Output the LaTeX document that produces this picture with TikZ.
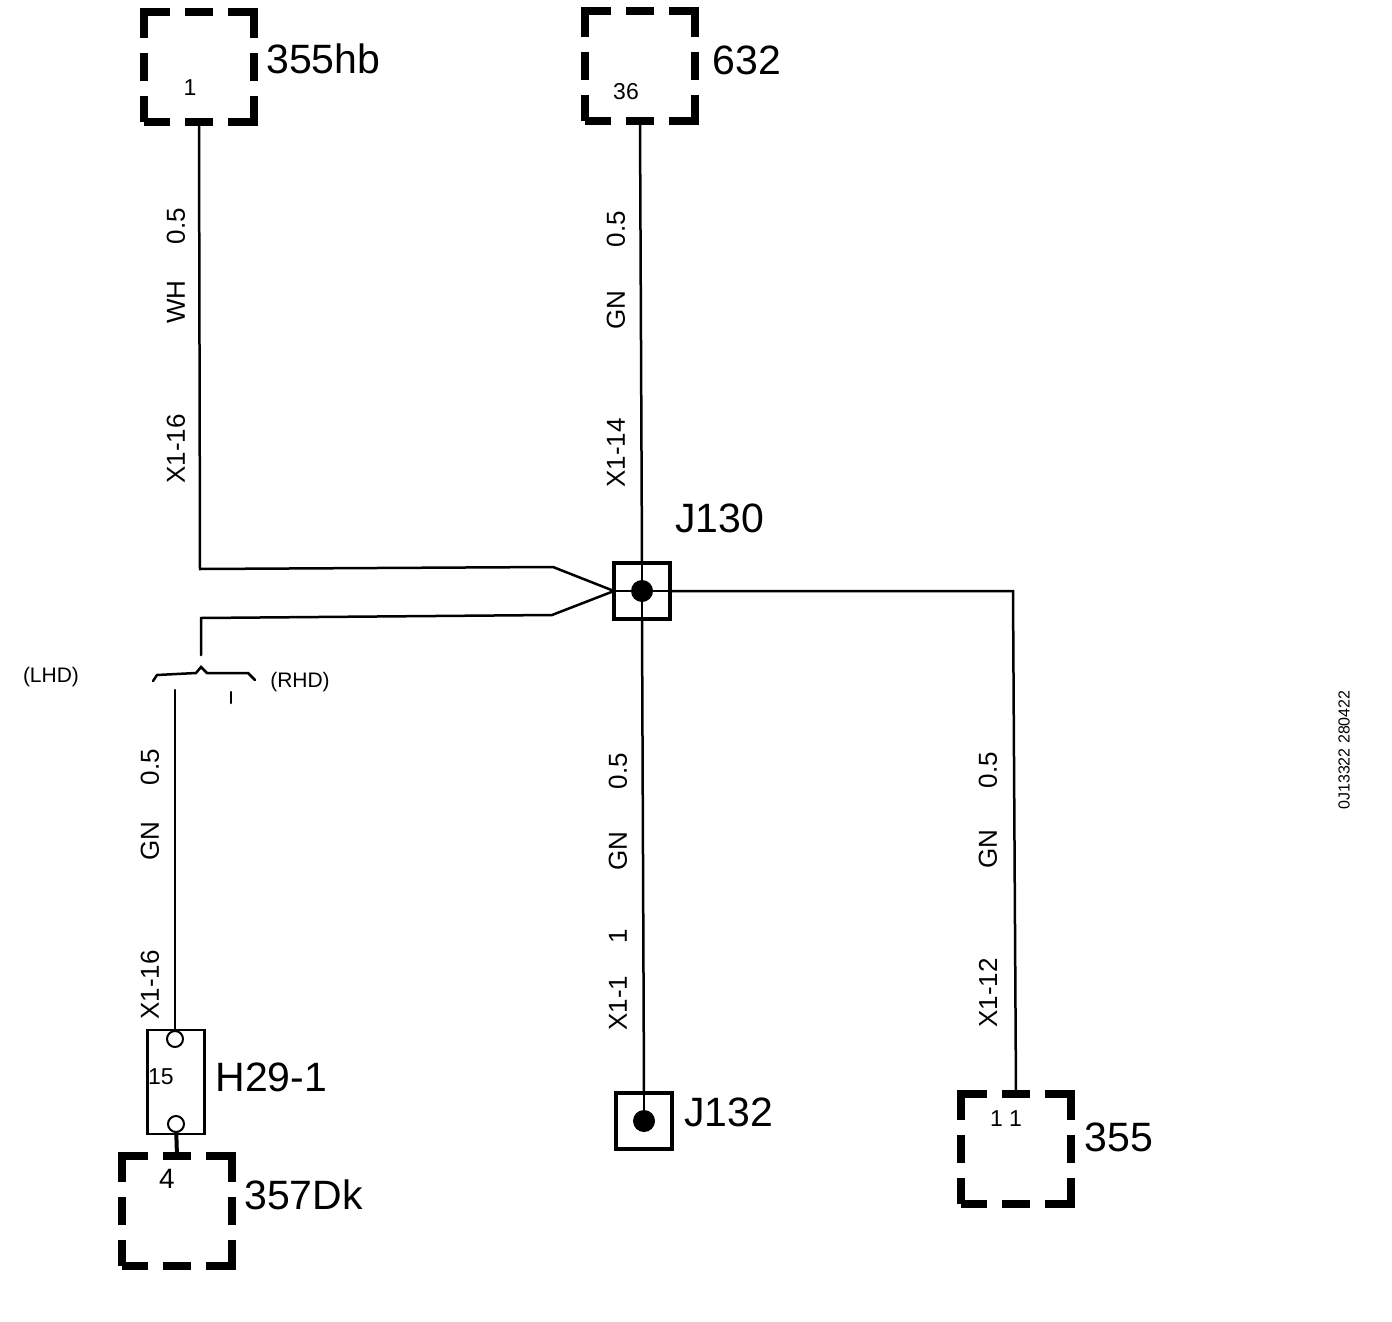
\documentclass[tikz,border=0pt]{standalone}
\usepackage{fontspec}
\setmainfont{Liberation Sans}
\begin{document}
\begin{tikzpicture}[x=0.5pt,y=-0.5pt]
    \tikzstyle{wire}=[draw=black, line width=1.25pt, line cap=round, line join=miter]
    \tikzstyle{stub}=[draw=black, line width=2pt]
    \tikzstyle{compbox}=[rectangle, draw=black, line width=4pt, minimum size=55pt, inner sep=0pt, outer sep=0pt, dash pattern=on 26pt off 7.5pt on 14pt off 7.5pt, dash phase=13pt]
    \tikzstyle{splice}=[rectangle, draw=black, line width=2pt, minimum size=28pt, inner sep=0pt, outer sep=0pt]
    \tikzstyle{vertex}=[circle, fill=black, minimum size=11pt, inner sep=0pt]
    \tikzstyle{fusepin}=[circle, draw=black, fill=white, line width=1pt, minimum size=8pt, inner sep=0pt, outer sep=0pt]
    \tikzstyle{fuse}=[rectangle, draw=black, line width=1.25pt, minimum width=28.5pt, minimum height=52pt, inner sep=0pt, outer sep=0pt]
    \tikzstyle{compname}=[font=\fontsize{20.5}{24}\selectfont, inner sep=0pt]
    \tikzstyle{num}=[font=\fontsize{11.5}{14}\selectfont, inner sep=0pt]
    \tikzstyle{sidetag}=[font=\fontsize{10.5}{13}\selectfont, inner sep=0pt]
    \tikzstyle{lab}=[font=\fontsize{13}{15}\selectfont, rotate=90, inner sep=0pt]
    \useasboundingbox (0,0) rectangle (1392,1322);

    % components
    \node[compbox] (b355hb) at (199,67) {};
    \node[compbox] (b632) at (640,66) {};
    \node[compbox] (b357dk) at (177,1211) {};
    \node[compbox] (b355) at (1016,1149) {};
    \node[splice] (j130) at (642,591) {};
    \node[splice] (j132) at (644,1121) {};
    \node[vertex] (d130) at (642,591) {};
    \node[vertex] (d132) at (644,1121) {};
    \node[fuse] (h29) at (176,1082) {};

    % bends
    \coordinate (c1) at (200,569);
    \coordinate (c2) at (553,567);
    \coordinate (c3) at (201,618);
    \coordinate (c4) at (552,615);
    \coordinate (c5) at (201,655);
    \coordinate (c6) at (1013,591);
    \coordinate (c7) at (175,690);
    \coordinate (s1) at (153,681);
    \coordinate (s2) at (157,675);
    \coordinate (s3) at (196,673);
    \coordinate (s4) at (201,667);
    \coordinate (s5) at (207,673);
    \coordinate (s6) at (248,673);
    \coordinate (s7) at (255,680);
    \coordinate (t1) at (231,692);
    \coordinate (t2) at (231,703);

    % wires
    \draw[wire] (b355hb.south) -- (c1) -- (c2) -- (j130.west);
    \draw[wire] (c5) -- (c3) -- (c4) -- (j130.west);
    \draw[wire] (b632.south) -- (j130.north);
    \draw[wire] (j130.north) -- (d130) -- (j130.south);
    \draw[wire] (j130.west) -- (d130) -- (j130.east);
    \draw[wire] (j130.south) -- (j132.north);
    \draw[wire] (j132.north) -- (d132);
    \draw[wire] (j130.east) -- (c6) -- (b355.north);
    \draw[wire] (s1) -- (s2) -- (s3) -- (s4) -- (s5) -- (s6) -- (s7);
    \draw[wire] (t1) -- (t2);
    \node[fusepin] (p1) at (175,1039) {};
    \node[fusepin] (p2) at (176,1124) {};
    \draw[wire] (c7) -- (p1);
    \draw[stub] (p2) -- (b357dk.north);

    % names
    \node[compname,anchor=west] (n1) at (266,59) {355hb};
    \node[compname,anchor=west] (n2) at (712,60) {632};
    \node[compname,anchor=west] (n3) at (675,518) {J130};
    \node[compname,anchor=west] (n4) at (684,1112) {J132};
    \node[compname,anchor=west] (n5) at (215,1077) {H29-1};
    \node[compname,anchor=west] (n6) at (244,1195) {357Dk};
    \node[compname,anchor=west] (n7) at (1084,1137) {355};

    % pin numbers
    \node[num] (m1) at (190,88) {1};
    \node[num] (m2) at (626,92) {36};
    \node[num] (m3) at (161,1077) {15};
    \node[num,font=\fontsize{14}{16}\selectfont] (m4) at (167,1179) {4};
    \node[num] (m5) at (1006,1119) {1 1};
    \node[sidetag] (lhd) at (51,677) {(LHD)};
    \node[sidetag] (rhd) at (300,682) {(RHD)};

    % wire labels
    \node[lab] (a1) at (176,226) {0.5};
    \node[lab] (a2) at (176,302) {WH};
    \node[lab] (a3) at (176,449) {X1-16};
    \node[lab] (e1) at (616,229) {0.5};
    \node[lab] (e2) at (616,310) {GN};
    \node[lab] (e3) at (616,453) {X1-14};
    \node[lab] (f1) at (150,767) {0.5};
    \node[lab] (f2) at (150,841) {GN};
    \node[lab] (f3) at (150,985) {X1-16};
    \node[lab] (g1) at (618,771) {0.5};
    \node[lab] (g2) at (618,851) {GN};
    \node[lab] (g3) at (618,936) {1};
    \node[lab] (g4) at (618,1003) {X1-1};
    \node[lab] (k1) at (988,770) {0.5};
    \node[lab] (k2) at (988,849) {GN};
    \node[lab] (k3) at (988,993) {X1-12};
    \node[lab,font=\fontsize{8}{10}\selectfont] (side) at (1344,750) {0J13322 280422};
\end{tikzpicture}
\end{document}
